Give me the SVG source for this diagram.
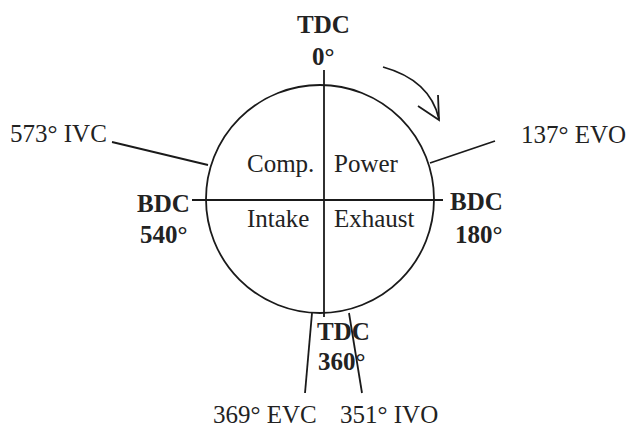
<svg xmlns="http://www.w3.org/2000/svg" width="631" height="428" viewBox="0 0 631 428">
<style>
text{font-family:"Liberation Serif","Times New Roman",serif;font-size:25px;fill:#222}
.b{font-weight:bold}
.ln{stroke:#1a1a1a;stroke-width:1.8;fill:none}
</style>
<rect width="631" height="428" fill="#fff"/>
<g id="cycle">
<circle cx="320" cy="199" r="114" class="ln" stroke-width="2.2"/>
<line x1="192" y1="200" x2="443" y2="200" class="ln"/>
<line x1="324" y1="70" x2="324" y2="317" class="ln"/>
</g>
<g id="connectors">
<line x1="112" y1="142" x2="208" y2="165" class="ln"/>
<line x1="430" y1="163" x2="495" y2="141" class="ln"/>
<line x1="312" y1="313" x2="305" y2="393" class="ln"/>
<line x1="349" y1="313" x2="362" y2="393" class="ln"/>
<path d="M383,67 Q430,80 439,119" class="ln" stroke-width="2.2"/>
<path d="M418,106 L439,120 L438,95" class="ln" stroke-width="2"/>
</g>
<g id="tdc0"><text x="297" y="33" class="b">TDC</text><text x="312" y="65" class="b">0°</text></g>
<g id="bdc540"><text x="137" y="212" class="b">BDC</text><text x="140" y="243" class="b">540°</text></g>
<g id="bdc180"><text x="450" y="210" class="b">BDC</text><text x="455" y="243" class="b">180°</text></g>
<g id="tdc360"><text x="317" y="340" class="b">TDC</text><text x="318" y="370" class="b">360°</text></g>
<g id="ivc"><text x="10" y="142">573° IVC</text></g>
<g id="evo"><text x="521" y="143">137° EVO</text></g>
<g id="evc"><text x="213" y="423">369° EVC</text></g>
<g id="ivo"><text x="340" y="423">351° IVO</text></g>
<g id="comp"><text x="247" y="172">Comp.</text></g>
<g id="power"><text x="334" y="172">Power</text></g>
<g id="intake"><text x="247" y="227">Intake</text></g>
<g id="exhaust"><text x="334" y="227">Exhaust</text></g>
</svg>
